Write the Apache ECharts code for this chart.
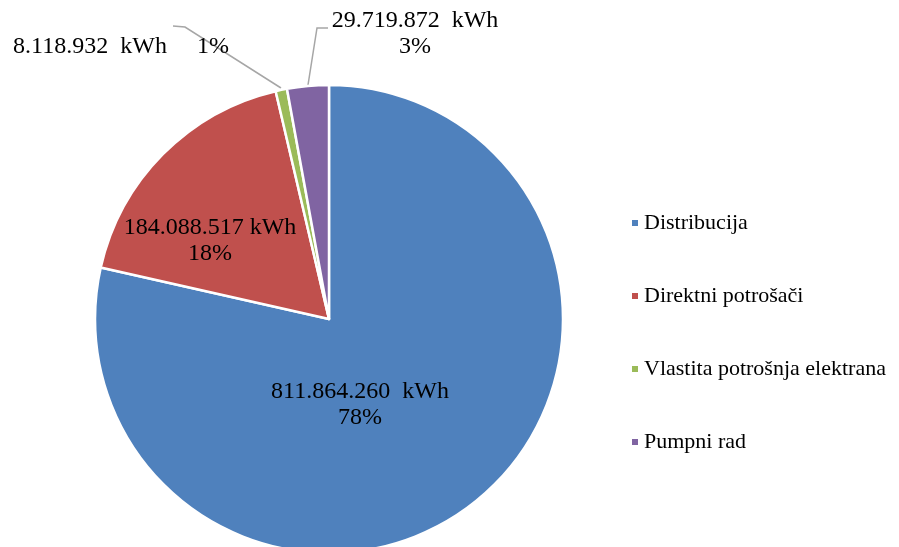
<!DOCTYPE html>
<html>
<head>
<meta charset="utf-8">
<script src="https://cdn.jsdelivr.net/npm/echarts@6/dist/echarts.min.js"></script>
<style>
  html, body { margin: 0; padding: 0; background: #fff; }
  #chart { width: 899px; height: 547px; }
</style>
</head>
<body>
<div id="chart"></div>
<script>
const categories = ['Distribucija', 'Direktni potrošači', 'Vlastita potrošnja elektrana', 'Pumpni rad'];
const values = [811864260, 184088517, 8118932, 29719872];
const percentLabels = ['78%', '18%', '1%', '3%'];
const colors = ['#4F81BD', '#C0504D', '#9BBB59', '#8064A2'];

const FONT = '"Liberation Serif", "Times New Roman", serif';

function formatNum(n) {
  return String(n).replace(/\B(?=(\d{3})+(?!\d))/g, '.');
}

// how the value and percent are joined in each label
const unitSep = ['  kWh', ' kWh', '  kWh', '  kWh'];
const lineSep = ['\n', '\n', '     ', '\n'];

const chart = echarts.init(document.getElementById('chart'));

chart.setOption({
  backgroundColor: '#fff',
  animation: false,
  legend: {
    orient: 'vertical',
    left: 630,
    top: 207,
    padding: [5, 0],
    itemWidth: 8,
    itemHeight: 8,
    itemGap: 51,
    icon: 'rect',
    data: categories,
    textStyle: { fontFamily: FONT, fontSize: 22, color: '#000', lineHeight: 22 }
  },
  series: [{
    type: 'pie',
    center: [329, 319],
    radius: 234,
    startAngle: 90,
    clockwise: true,
    avoidLabelOverlap: false,
    itemStyle: { borderColor: '#fff', borderWidth: 2.5 },
    data: categories.map((c, i) => ({
      name: c,
      value: values[i],
      itemStyle: { color: colors[i] }
    })),
    label: {
      show: true,
      fontFamily: FONT,
      fontSize: 24,
      color: '#000',
      lineHeight: 26,
      align: 'center',
      formatter: p => formatNum(p.value) + unitSep[p.dataIndex] + lineSep[p.dataIndex] + percentLabels[p.dataIndex]
    },
    labelLine: { show: true, length: 20, length2: 10, lineStyle: { color: '#A6A6A6', width: 1.5 } },
    labelLayout: p => {
      if (p.dataIndex === 0) return { x: 360, y: 405, align: 'center', verticalAlign: 'middle' };
      if (p.dataIndex === 1) return { x: 210, y: 241, align: 'center', verticalAlign: 'middle' };
      if (p.dataIndex === 2) return {
        x: 121, y: 47, align: 'center', verticalAlign: 'middle',
        labelLinePoints: [[281, 88], [185, 27], [173, 26]]
      };
      return {
        x: 415, y: 34, align: 'center', verticalAlign: 'middle',
        labelLinePoints: [[308, 85], [317, 28], [328, 28]]
      };
    }
  }]
});
</script>
</body>
</html>
